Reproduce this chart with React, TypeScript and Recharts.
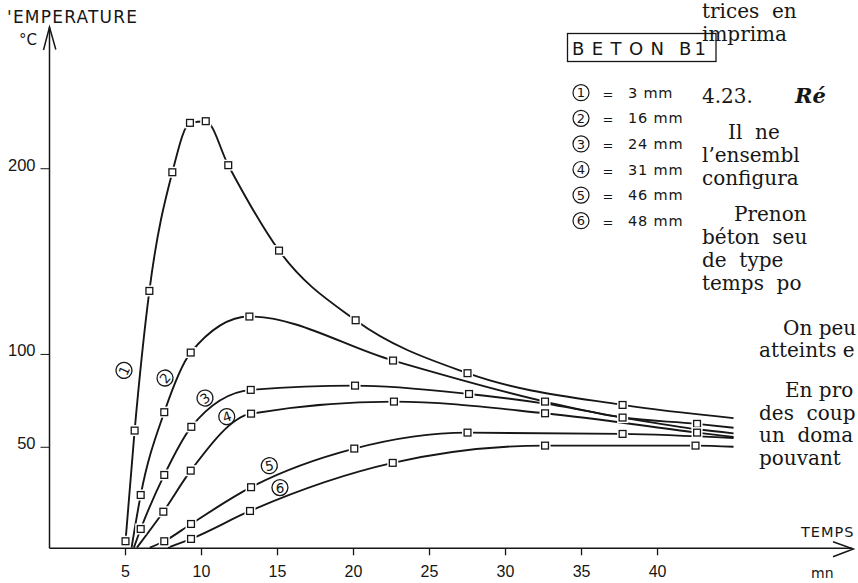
import React from 'react'
import { LineChart, Line, XAxis, YAxis, ReferenceDot } from 'recharts'

const W = 858
const H = 583

// time in mn, temperature in °C ; mark = 1 where the measured point has a square
const c1Time = [5.0, 5.6, 6.57, 8.08, 9.24, 10.28, 11.76, 15.1, 20.14, 27.5, 37.7, 45]
const c1Temp = [-0.6, 59, 134.2, 198.1, 224.7, 225.6, 201.9, 155.9, 118.4, 89.9, 72.8, 65.7]
const c1Mark = [1, 1, 1, 1, 1, 1, 1, 1, 1, 1, 1, 0]

const c2Time = [5.4, 6.0, 7.55, 9.29, 13.15, 22.6, 32.6, 37.7, 42.6, 45]
const c2Temp = [-4, 24.3, 68.9, 101.0, 120.4, 96.7, 74.6, 66.0, 62.6, 60.5]
const c2Mark = [0, 1, 1, 1, 1, 1, 1, 1, 1, 0]

const c3Time = [5.55, 6.0, 7.55, 9.33, 13.24, 20.1, 27.6, 32.6, 37.7, 42.6, 45]
const c3Temp = [-4, 6.0, 35.1, 61.0, 80.9, 83.2, 78.7, 73.5, 66.0, 59.7, 57.5]
const c3Mark = [0, 1, 1, 1, 1, 1, 1, 0, 0, 0, 0]

const c4Time = [5.75, 7.49, 9.29, 13.26, 22.66, 32.6, 42.6, 45]
const c4Temp = [-4, 15.3, 37.4, 68.1, 74.6, 68.3, 57.9, 55.5]
const c4Mark = [0, 1, 1, 1, 1, 1, 1, 0]

const c5Time = [6.6, 7.55, 9.31, 13.26, 20.05, 27.5, 37.7, 45]
const c5Temp = [-4, -0.6, 8.7, 28.5, 49.3, 57.9, 57.2, 55.0]
const c5Mark = [0, 1, 1, 1, 1, 1, 1, 0]

const c6Time = [7.8, 9.31, 13.19, 22.58, 32.6, 42.5, 45]
const c6Temp = [-4, 0.65, 15.7, 41.6, 50.9, 50.9, 50.3]
const c6Mark = [0, 1, 1, 1, 1, 1, 0]

const xTicks = [5, 10, 15, 20, 25, 30, 35, 40]
const yTicks = [50, 100, 200]

const curveNames = ['1', '2', '3', '4', '5', '6']
const curveSizes = ['3 mm', '16 mm', '24 mm', '31 mm', '46 mm', '48 mm']
const labelTime = [4.9, 7.6, 10.23, 11.66, 14.46, 15.16]
const labelTemp = [91.4, 87.3, 76.5, 66.5, 40.1, 28.3]
const labelAngle = [-65, -50, -35, -20, -10, 0]

// the book's text column, cut by the page edge as in the scan
const pageLines: [number, number, string][] = [
  [702, 18, 'trices  en'],
  [702, 41, 'imprima'],
  [702, 103, '4.23.'],
  [728, 139, 'Il  ne'],
  [702, 162, 'l\u2019ensembl'],
  [702, 185, 'configura'],
  [734, 221, 'Prenon'],
  [702, 244, 'béton  seu'],
  [702, 267, 'de  type'],
  [702, 290, 'temps  po'],
  [783, 335, 'On peu'],
  [759, 357, 'atteints e'],
  [785, 397, 'En pro'],
  [759, 420, 'des  coup'],
  [759, 442, 'un  doma'],
  [759, 465, 'pouvant'],
]

const toRows = (t: number[], v: number[]) => t.map((x, i) => ({ t: x, v: v[i] }))

const series = [
  { data: toRows(c1Time, c1Temp), mark: c1Mark },
  { data: toRows(c2Time, c2Temp), mark: c2Mark },
  { data: toRows(c3Time, c3Temp), mark: c3Mark },
  { data: toRows(c4Time, c4Temp), mark: c4Mark },
  { data: toRows(c5Time, c5Temp), mark: c5Mark },
  { data: toRows(c6Time, c6Temp), mark: c6Mark },
]

const ink = '#161616'
const sans = '"DejaVu Sans", sans-serif'
const tickFont = '"Liberation Sans", Arial, sans-serif'
const serif = '"DejaVu Serif", serif'

const squareDot = (mark: number[]) => (p: any) => {
  const { cx, cy, index } = p
  if (!mark[index] || cx == null) return <g key={`n${index}`} />
  return (
    <g key={`d${index}`}>
      <rect x={cx - 5.5} y={cy - 5.5} width={11} height={11} fill="#fff" />
      <rect x={cx - 3.4} y={cy - 3.4} width={6.8} height={6.8} fill="#fff" stroke={ink} strokeWidth={1.3} />
    </g>
  )
}

const XTick = (p: any) => (
  <text x={p.x} y={p.y + 21.5} textAnchor="middle" fontFamily={tickFont} fontSize={16} fill={ink}>
    {p.payload.value}
  </text>
)

const YTick = (p: any) => (
  <text x={p.x - 5} y={p.y + 2} textAnchor="end" fontFamily={tickFont} fontSize={16.5} fill={ink}>
    {p.payload.value}
  </text>
)

const circled = (i: number) => (p: any) => (
  <g transform={`translate(${p.cx},${p.cy}) rotate(${labelAngle[i]})`}>
    <circle r={8} fill="#fff" stroke={ink} strokeWidth={1.3} />
    <text y={5} textAnchor="middle" fontFamily={sans} fontSize={13.5} fill={ink}>
      {curveNames[i]}
    </text>
  </g>
)

export default function App() {
  return (
    <div style={{ position: 'absolute', left: 0, top: 0, width: W, height: H, overflow: 'hidden', background: '#fff' }}>
      <LineChart width={W} height={H} data={series[0].data} margin={{ top: 30, right: 5.9, bottom: 4.7, left: 0 }}>
        <XAxis
          dataKey="t"
          type="number"
          domain={[0, 52.8]}
          ticks={xTicks}
          allowDataOverflow
          height={30}
          tickSize={7}
          tickMargin={0}
          axisLine={{ stroke: ink, strokeWidth: 1.5 }}
          tickLine={{ stroke: ink, strokeWidth: 1.3 }}
          tick={<XTick />}
        />
        <YAxis
          type="number"
          domain={[-4.4, 274.7]}
          ticks={yTicks}
          allowDataOverflow
          width={49.5}
          tickSize={9}
          tickMargin={0}
          axisLine={{ stroke: ink, strokeWidth: 1.5 }}
          tickLine={{ stroke: ink, strokeWidth: 1 }}
          tick={<YTick />}
        />
        {series.map((s, i) => (
          <Line
            key={i}
            data={s.data}
            dataKey="v"
            type="monotone"
            stroke={ink}
            strokeWidth={1.9}
            dot={squareDot(s.mark)}
            activeDot={false}
            isAnimationActive={false}
          />
        ))}
        {curveNames.map((n, i) => (
          <ReferenceDot key={n} x={labelTime[i]} y={labelTemp[i]} r={8} shape={circled(i)} />
        ))}
      </LineChart>

      <svg width={W} height={H} style={{ position: 'absolute', left: 0, top: 0, pointerEvents: 'none' }}>
        {/* axis arrows */}
        <g stroke={ink} strokeWidth={1.5} fill="none">
          <line x1={49.5} y1={27} x2={49.5} y2={31} />
          <polyline points="43.5,50 49.5,27 55.8,49.5" />
          <polyline points="833,541.7 853.3,549 833,556.7" />
        </g>
        <text x={7} y={23} fontFamily={sans} fontSize={17} fill={ink} textLength={130} lengthAdjust="spacing">
          'EMPERATURE
        </text>
        <text x={19} y={45} fontFamily={sans} fontSize={15} fill={ink}>°C</text>
        <text x={801} y={537} fontFamily={sans} fontSize={14.5} fill={ink} letterSpacing={1}>TEMPS</text>
        <text x={811} y={578} fontFamily={sans} fontSize={14} fill={ink}>mn</text>

        {/* legend */}
        <rect x={567.5} y={33.5} width={148.5} height={28} fill="#fff" stroke={ink} strokeWidth={1.3} />
        <text x={572} y={54.5} fontFamily={sans} fontSize={18} fill={ink} textLength={92} lengthAdjust="spacing">
          BETON
        </text>
        <text x={679} y={54.5} fontFamily={sans} fontSize={18} fill={ink} textLength={27} lengthAdjust="spacing">
          B1
        </text>
        {curveSizes.map((s, i) => {
          const y = 92.7 + i * 25.6
          return (
            <g key={s}>
              <circle cx={581} cy={y} r={8} fill="none" stroke={ink} strokeWidth={1.2} />
              <text x={581} y={y + 4.7} textAnchor="middle" fontFamily={sans} fontSize={13} fill={ink}>
                {curveNames[i]}
              </text>
              <text x={608} y={y + 6} textAnchor="middle" fontFamily={sans} fontSize={13} fill={ink}>=</text>
              <text x={628} y={y + 5} fontFamily={sans} fontSize={14.5} fill={ink} letterSpacing={0.8}>{s}</text>
            </g>
          )
        })}

        {/* page text beside the figure */}
        <text x={795} y={103} fontFamily={serif} fontSize={21} fontStyle="italic" fontWeight="bold" fill={ink}>
          Ré
        </text>
        {pageLines.map(([x, y, t]) => (
          <text key={t} x={x} y={y} fontFamily={serif} fontSize={20} fill={ink} style={{ whiteSpace: 'pre' }}>
            {t}
          </text>
        ))}
      </svg>
    </div>
  )
}
